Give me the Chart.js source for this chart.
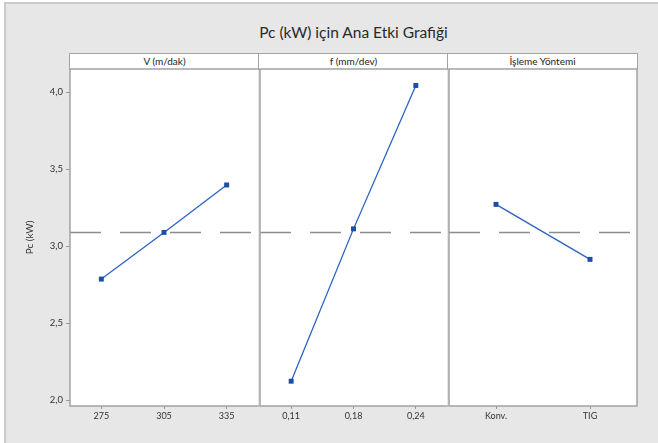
<!DOCTYPE html>
<html><head><meta charset="utf-8">
<script src="https://cdn.jsdelivr.net/npm/chart.js@4.4.1/dist/chart.umd.min.js"></script>
<style>
html,body{margin:0;padding:0;background:#fff;width:658px;height:443px;overflow:hidden;font-family:Lato,'Open Sans',sans-serif;}
#frame{position:absolute;left:4px;top:2px;width:660px;height:450px;background:#e7e7e7;border-left:2px solid #cacaca;border-top:2px solid #cacaca;}
#title{position:absolute;left:70px;width:567px;top:22px;height:20px;line-height:20px;text-align:center;font-size:15.5px;color:#2a2a2a;}
.hdr{position:absolute;top:53px;height:17px;background:#fff;border:1.5px solid #a3a3a3;box-sizing:border-box;text-align:center;font-size:10px;line-height:14px;color:#222;}
canvas{position:absolute;}
</style></head>
<body>
<div id="frame"></div>
<div id="title">Pc (kW) için Ana Etki Grafiği</div>
<div class="hdr" style="left:69px;width:191px;">V (m/dak)</div>
<div class="hdr" style="left:258px;width:191px;">f (mm/dev)</div>
<div class="hdr" style="left:447px;width:191px;">İşleme Yöntemi</div>
<canvas id="c1" width="262" height="383" style="left:0px;top:60px;"></canvas>
<canvas id="c2" width="195" height="383" style="left:256px;top:60px;"></canvas>
<canvas id="c3" width="213" height="383" style="left:445px;top:60px;"></canvas>
<script>
// ---- data ----
const speedLevels = ['275', '305', '335'];
const speedMeans = [2.787, 3.090, 3.398];
const feedLevels = ['0,11', '0,18', '0,24'];
const feedMeans = [2.124, 3.113, 4.044];
const methodLevels = ['Konv.', 'TIG'];
const methodMeans = [3.272, 2.915];
const overallMean = 3.090;
const yTicks = [2.0, 2.5, 3.0, 3.5, 4.0];
const yMin = 1.963, yMax = 4.151;

const FONT = "Lato, 'Open Sans', sans-serif";

const panelPlugin = {
  id: 'panel',
  beforeDraw(chart) {
    const a = chart.chartArea, ctx = chart.ctx;
    ctx.save();
    ctx.fillStyle = '#ffffff';
    ctx.fillRect(a.left, a.top, a.right - a.left, a.bottom - a.top);
    ctx.restore();
  },
  beforeDatasetsDraw(chart) {
    const a = chart.chartArea, ctx = chart.ctx;
    const y = chart.scales.y.getPixelForValue(overallMean);
    ctx.save();
    ctx.strokeStyle = '#8c8c8c';
    ctx.lineWidth = 1.5;
    ctx.setLineDash([31, 19]);
    ctx.beginPath();
    ctx.moveTo(a.left, y);
    ctx.lineTo(a.right, y);
    ctx.stroke();
    ctx.restore();
  },
  afterDraw(chart, args, opts) {
    const a = chart.chartArea, ctx = chart.ctx;
    ctx.save();
    ctx.strokeStyle = '#a3a3a3';
    ctx.lineWidth = 1.5;
    ctx.beginPath();
    ctx.moveTo(a.left, a.top);
    ctx.lineTo(a.left, a.bottom);
    ctx.moveTo(a.left - 0.75, a.top);
    ctx.lineTo(a.right + 0.75, a.top);
    ctx.moveTo(a.left - 0.75, a.bottom);
    ctx.lineTo(a.right + 0.75, a.bottom);
    if (opts.rightEdge) {
      ctx.moveTo(a.right, a.top);
      ctx.lineTo(a.right, a.bottom);
    }
    ctx.stroke();
    ctx.restore();
  }
};

function makePanel(id, labels, values, showY, pad, rightEdge) {
  return new Chart(document.getElementById(id), {
    type: 'line',
    data: {
      labels: labels,
      datasets: [{
        data: values,
        borderColor: '#2b63c0',
        borderWidth: 1.3,
        pointStyle: 'rect',
        pointRadius: 3.5,
        pointBackgroundColor: '#1b4fa5',
        pointBorderColor: '#1b4fa5',
        pointBorderWidth: 0,
        tension: 0,
        clip: false
      }]
    },
    options: {
      responsive: false,
      animation: false,
      events: [],
      layout: { padding: pad },
      plugins: { legend: { display: false }, tooltip: { enabled: false }, panel: { rightEdge: rightEdge } },
      scales: {
        x: {
          type: 'category',
          offset: true,
          afterFit: s => { s.height = 30; },
          ticks: { font: { size: 9, family: FONT }, color: '#333', padding: 2, autoSkip: false, maxRotation: 0 },
          grid: { display: true, drawOnChartArea: false, drawTicks: true, tickLength: 3, color: '#999', offset: false },
          border: { display: false }
        },
        y: {
          type: 'linear',
          display: showY,
          min: yMin,
          max: yMax,
          afterFit: s => { s.width = showY ? 70 : 0; },
          afterBuildTicks: s => { s.ticks = yTicks.map(v => ({ value: v })); },
          ticks: {
            font: { size: 9.5, family: FONT }, color: '#333', padding: 3,
            callback: v => v.toFixed(1).replace('.', ',')
          },
          grid: { drawOnChartArea: false, drawTicks: true, tickLength: 4, color: '#999' },
          border: { display: false },
          title: { display: showY, text: 'Pc (kW)', font: { size: 10, family: FONT }, color: '#333', padding: { top: 24, bottom: 0 } }
        }
      }
    },
    plugins: [panelPlugin]
  });
}

makePanel('c1', speedLevels, speedMeans, true, { left: 0, right: 3, top: 9, bottom: 7 }, false);
makePanel('c2', feedLevels, feedMeans, false, { left: 3, right: 3, top: 9, bottom: 7 }, false);
makePanel('c3', methodLevels, methodMeans, false, { left: 3, right: 21, top: 9, bottom: 7 }, true);
</script>
</body></html>
